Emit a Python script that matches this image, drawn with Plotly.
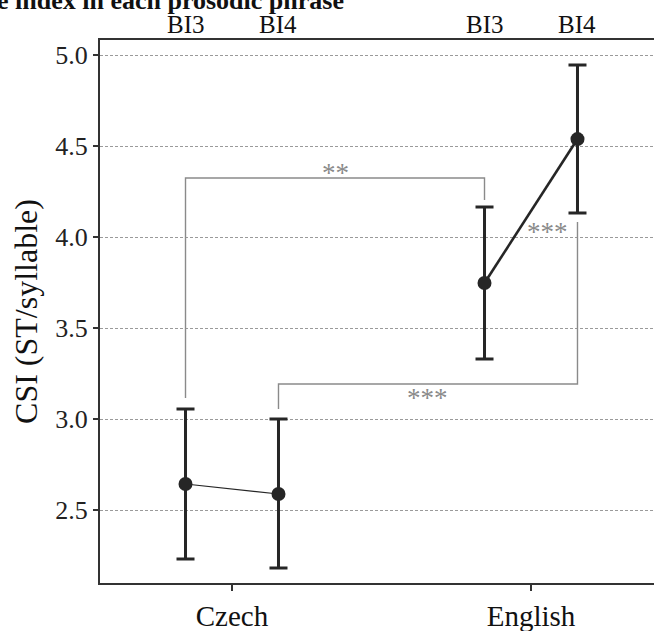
import plotly.graph_objects as go

# ---- data ----
groups = ["Czech", "English"]
boundaries = ["BI3", "BI4"]
means = {"Czech": [2.643, 2.588], "English": [3.747, 4.538]}
lower = {"Czech": [2.231, 2.181], "English": [3.330, 4.132]}
upper = {"Czech": [3.055, 3.000], "English": [4.165, 4.945]}
line_widths = {"Czech": 1.2, "English": 2.6}
y_ticks = [2.5, 3.0, 3.5, 4.0, 4.5, 5.0]

# significance comparisons: (group_a, bi_a, group_b, bi_b, bar_y, end_a, end_b, label, label_side)
comparisons = [
    ("Czech", "BI3", "English", "BI3", 4.324, 3.115, 4.203, "**", "above"),
    ("Czech", "BI4", "English", "BI4", 3.192, 3.055, 4.082, "***", "below"),
]
# label without bracket: (group, x offset from group centre, y, label)
free_labels = [("English", 0.054, 4.049, "***")]

title_text = "e index in each prosodic phrase"
y_title = "CSI (ST/syllable)"

# ---- style ----
dodge = 0.1555
dark = "#262626"
grey = "#8a8a8a"
font_family = "Liberation Serif"

gx = {g: i + 1 for i, g in enumerate(groups)}


def xpos(g, bi):
    return gx[g] + (-dodge if bi == boundaries[0] else dodge)


fig = go.Figure()

for g in groups:
    xs = [xpos(g, b) for b in boundaries]
    fig.add_trace(go.Scatter(
        x=xs, y=means[g], mode="lines",
        line=dict(color=dark, width=line_widths[g]),
        showlegend=False, hoverinfo="skip"))
    fig.add_trace(go.Scatter(
        x=xs, y=means[g], mode="markers",
        marker=dict(color=dark, size=14),
        error_y=dict(type="data", symmetric=False,
                     array=[u - m for u, m in zip(upper[g], means[g])],
                     arrayminus=[m - l for l, m in zip(lower[g], means[g])],
                     color=dark, thickness=3, width=9),
        showlegend=False))

for ga, ba, gb, bb, yb, ea, eb, lab, side in comparisons:
    xa, xb = xpos(ga, ba), xpos(gb, bb)
    fig.add_trace(go.Scatter(
        x=[xa, xa, xb, xb], y=[ea, yb, yb, eb], mode="lines",
        line=dict(color=grey, width=1.4), showlegend=False, hoverinfo="skip"))
    if side == "above":
        fig.add_annotation(x=(xa + xb) / 2, y=yb, text=lab, showarrow=False,
                           yanchor="bottom", yshift=-12,
                           font=dict(family=font_family, size=27, color=grey))
    else:
        fig.add_annotation(x=(xa + xb) / 2, y=yb, text=lab, showarrow=False,
                           yanchor="top", yshift=3,
                           font=dict(family=font_family, size=27, color=grey))

for g, dx, yv, lab in free_labels:
    fig.add_annotation(x=gx[g] + dx, y=yv, text=lab, showarrow=False,
                       yanchor="middle", yshift=-4,
                       font=dict(family=font_family, size=27, color=grey))

# top boundary labels
for g in groups:
    for b in boundaries:
        fig.add_annotation(x=xpos(g, b), xref="x", y=1 + 15 / 543, yref="paper",
                           text=b, showarrow=False, yanchor="middle",
                           font=dict(family=font_family, size=25, color="#111"))

# partially visible title
fig.add_annotation(x=(346 - 100) / 554, xref="paper", y=1 + 56 / 543, yref="paper",
                   xanchor="right", yanchor="top", text="<b>" + title_text + "</b>",
                   showarrow=False,
                   font=dict(family=font_family, size=26, color="#111"))

fig.update_layout(
    width=654, height=631,
    margin=dict(l=100, r=0, t=40, b=48),
    paper_bgcolor="white", plot_bgcolor="white",
    font=dict(family=font_family, color="#222"),
    xaxis=dict(
        range=[1 - 132 / 299, 2 + 123 / 299],
        tickvals=[gx[g] for g in groups], ticktext=groups,
        ticks="outside", ticklen=6, tickwidth=2, tickcolor="#333",
        tickfont=dict(family=font_family, size=29, color="#111"),
        showline=True, linecolor="#333", linewidth=2, mirror=True,
        showgrid=False, zeroline=False,
    ),
    yaxis=dict(
        range=[2.099, 5.0824],
        tickvals=y_ticks, tickformat=".1f",
        ticks="outside", ticklen=5, tickwidth=1.5, tickcolor="#333",
        tickfont=dict(family=font_family, size=26, color="#222"),
        showline=True, linecolor="#333", linewidth=2, mirror=False,
        showgrid=True, gridcolor="#9a9a9a", gridwidth=1, griddash="3px,2px",
        zeroline=False,
        title=dict(text=y_title, standoff=8,
                   font=dict(family=font_family, size=32, color="#111")),
    ),
)

fig.write_html("out.html")
